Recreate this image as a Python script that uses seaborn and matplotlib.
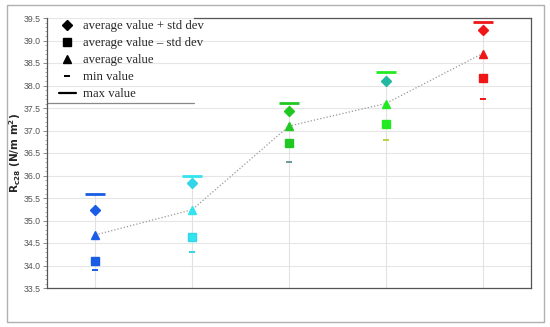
import numpy as np
import pandas as pd
import matplotlib.pyplot as plt
import seaborn as sns
from matplotlib.lines import Line2D
from matplotlib.patches import Rectangle
from matplotlib.ticker import MultipleLocator, FormatStrFormatter

# values (N/mm2)
groups = [1, 2, 3, 4, 5]
max_val = [35.60, 36.00, 37.62, 38.30, 39.41]
avg_plus_std = [35.24, 35.83, 37.44, 38.09, 39.24]
avg_val = [34.68, 35.24, 37.10, 37.60, 38.71]
avg_minus_std = [34.10, 34.64, 36.72, 37.15, 38.16]
min_val = [33.90, 34.31, 36.30, 36.80, 37.71]

legend_labels = ['average value + std dev', 'average value \u2013 std dev',
                 'average value', 'min value', 'max value']

df = pd.DataFrame({'group': groups, 'max': max_val, 'plus': avg_plus_std,
                   'avg': avg_val, 'minus': avg_minus_std, 'min': min_val})

main_cols = ['#1a5ce6', '#33e3f0', '#22c822', '#22ea22', '#ee1616']
diamond_cols = ['#1a5ce6', '#33d6e8', '#22c822', '#22b8a0', '#ee1616']
min_cols = ['#1a5ce6', '#33d6e8', '#6a9a9a', '#b8d040', '#ee1616']

sns.set_style('white')

fig = plt.figure(figsize=(5.5, 3.27), dpi=100)
ax = fig.add_axes([47 / 550, 1 - 288 / 327, 484 / 550, 270 / 327])

# light vertical drop lines at each group
ax.vlines(df['group'], 33.5, df['max'], color='#e2e2e2', lw=0.8, zorder=1)

# dotted line through the averages
sns.lineplot(data=df, x='group', y='avg', ax=ax, color='#999999',
             linestyle=(0, (1, 1.6)), lw=0.9, zorder=2)

for i in range(len(groups)):
    g = groups[i]
    ax.plot(g, max_val[i], marker='_', ms=14, mew=2.0, color=main_cols[i], ls='none', zorder=3)
    ax.plot(g, min_val[i], marker='_', ms=4.5, mew=1.4, color=min_cols[i], ls='none', zorder=3)
    ax.plot(g, avg_plus_std[i], marker='D', ms=5.5, color=diamond_cols[i],
            mec=diamond_cols[i], ls='none', zorder=3)
    ax.plot(g, avg_val[i], marker='^', ms=6.2, color=main_cols[i], ls='none', zorder=3)
    ax.plot(g, avg_minus_std[i], marker='s', ms=6, color=main_cols[i],
            mec=diamond_cols[i] if i == 1 else main_cols[i], ls='none', zorder=3)

ax.set_xlim(0.5, 5.5)
ax.set_ylim(33.5, 39.5)
ax.set_xticks([])
ax.set_xlabel('')
ax.yaxis.set_major_locator(MultipleLocator(0.5))
ax.yaxis.set_minor_locator(MultipleLocator(0.1))
ax.yaxis.set_major_formatter(FormatStrFormatter('%.1f'))
ax.grid(axis='y', color='#e6e6e6', lw=0.8)
ax.set_axisbelow(True)
ax.tick_params(axis='y', which='major', left=True, length=3, width=0.6,
               color='#777777', labelsize=6.3, labelcolor='#555555', pad=1.5)
ax.tick_params(axis='y', which='minor', left=True, length=1.5, width=0.5, color='#888888')
for lab in ax.get_yticklabels():
    lab.set_family('Liberation Sans')

for side in ['left', 'bottom', 'right', 'top']:
    ax.spines[side].set_color('#555555')
    ax.spines[side].set_linewidth(0.9)
ax.spines['top'].set_bounds(2.02, 5.5)

ax.set_ylabel('R$_{\\mathbf{c28}}$ (N/m m$^{\\mathbf{2}}$)', fontsize=7.5,
              fontweight='bold')
ax.yaxis.set_label_coords(-24 / 484, 0.5)

# legend
handles = [
    Line2D([], [], marker='D', ms=5, color='black', ls='none'),
    Line2D([], [], marker='s', ms=5.5, color='black', ls='none'),
    Line2D([], [], marker='^', ms=6, color='black', ls='none'),
    Line2D([], [], marker='_', ms=4, mew=1.4, color='black', ls='none'),
    Line2D([], [], color='black', lw=1.6),
]
ax.legend(handles, legend_labels, loc='upper left', bbox_to_anchor=(0.0, 1.035),
          frameon=False, prop={'family': 'Liberation Serif', 'size': 9.2},
          handlelength=1.4, handletextpad=0.55, labelspacing=0.4, borderaxespad=0.5)
ax.plot([0, 0.304], [(37.6 - 33.5) / 6] * 2, transform=ax.transAxes,
        color='#888888', lw=0.9, clip_on=False)

# outer frame
fig.patches.append(Rectangle((7 / 550, 5 / 327), 537 / 550, 317 / 327,
                             transform=fig.transFigure, fill=False,
                             edgecolor='#b0b0b0', lw=1.0))

fig.savefig('out.png', dpi=100)
